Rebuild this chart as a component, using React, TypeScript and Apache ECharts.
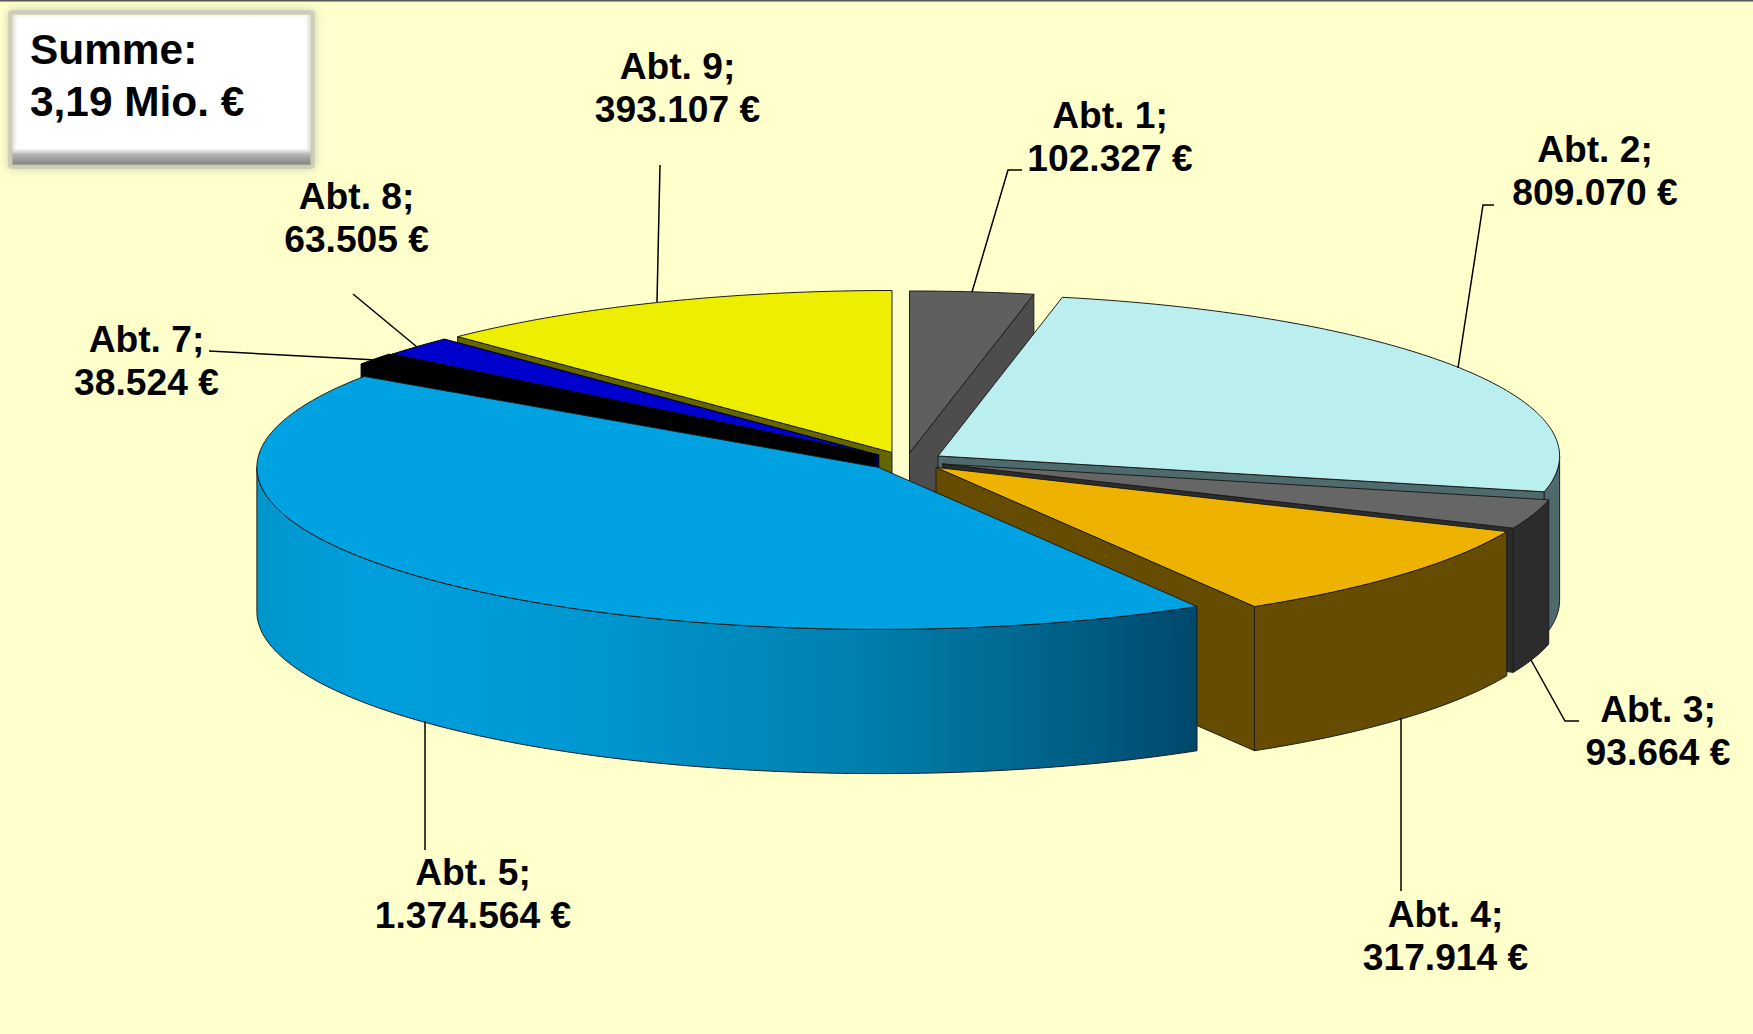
import React, { useEffect, useRef } from "react";
import * as echarts from "echarts";

const names = ["Abt. 1", "Abt. 2", "Abt. 3", "Abt. 4", "Abt. 5", "Abt. 7", "Abt. 8", "Abt. 9"];
const values = [102327, 809070, 93664, 317914, 1374564, 38524, 63505, 393107];
const totalLines = ["Summe:", "3,19 Mio. €"];
const drawOrder = [0, 7, 6, 5, 1, 2, 3, 4];

const topColors = ["#5f5f5f", "#bbeeee", "#666666", "#eeb200", "#00a2e2", "#000000", "#0000cc", "#eeee00"];
const wallColors = ["#4d4d4d", "#4e6a6c", "#2c2c2c", "#664c00", "#0090c8", "#000000", "#000066", "#666600"];
const edgeColors = ["#1c1c1c", "#1c1c1c", "#1c1c1c", "#1c1c1c", "#1c1c1c", "#000000", "#000000", "#1c1c1c"];
const apexes = [[909.5, 453], [938, 456], [942.5, 464], [936, 467.4], [878.5, 467.4], [875.4, 455], [878.8, 455], [892, 452.5]];
const labelCenters = [[1110, 136], [1595, 170], [1658, 730], [1445.5, 935], [473, 893], [146.5, 360.5], [356.6, 217], [677.5, 87.5]];
const leaderLines = [
  [[1022, 170], [1008, 170], [972, 292]],
  [[1494, 205], [1483, 205], [1458, 368]],
  [[1531, 660], [1565, 721], [1579, 721]],
  [[1401, 718], [1401, 891]],
  [[425, 721], [425, 850]],
  [[209, 351], [377, 360]],
  [[353, 294], [417, 347]],
  [[660, 165], [657, 302]],
];

const RX = 621.6;
const RY = 162;
const DEPTH = 144.2;
const total = values.reduce((a, b) => a + b, 0);
const startAngles: number[] = [];
values.reduce((acc, v, i) => {
  startAngles[i] = (acc / total) * 360;
  return acc + v;
}, 0);

const fmt = (v: number) => v.toString().replace(/\B(?=(\d{3})+$)/g, ".");
const rad = (d: number) => (d * Math.PI) / 180;
const pt = (c: number[], deg: number, dy = 0) => [c[0] + RX * Math.sin(rad(deg)), c[1] - RY * Math.cos(rad(deg)) + dy];
const arc = (c: number[], from: number, to: number, dy = 0) => {
  const n = Math.max(2, Math.ceil(Math.abs(to - from) / 0.75));
  const out: number[][] = [];
  for (let i = 0; i <= n; i++) out.push(pt(c, from + ((to - from) * i) / n, dy));
  return out;
};

function renderSlice(_: any, api: any) {
  const i = drawOrder[api.value(0)];
  const c = apexes[i];
  const from = startAngles[i];
  const to = from + (values[i] / total) * 360;
  const children: any[] = [];
  const wallFill = wallColors[i];
  const edge = { stroke: edgeColors[i], lineWidth: 1 };
  const radial = (deg: number) => {
    const p = pt(c, deg);
    return {
      type: "polygon",
      shape: { points: [c, p, [p[0], p[1] + DEPTH], [c[0], c[1] + DEPTH]] },
      style: { fill: wallFill, ...edge },
    };
  };
  // only the cut faces that turn towards the viewer are drawn
  if (Math.sin(rad(to)) > 0) children.push(radial(to));
  if (Math.sin(rad(from)) < 0) children.push(radial(from));
  const a = Math.max(from, 90);
  const b = Math.min(to, 270);
  if (b > a) {
    const fill =
      i === 4
        ? {
            type: "linear", x: 0, y: 0, x2: 1, y2: 0,
            colorStops: [
              { offset: 0, color: "#0096cc" },
              { offset: 0.12, color: "#009fdd" },
              { offset: 0.32, color: "#0099d4" },
              { offset: 0.62, color: "#0082b0" },
              { offset: 0.8, color: "#006a93" },
              { offset: 1, color: "#00486c" },
            ],
          }
        : wallFill;
    children.push({
      type: "polygon",
      shape: { points: [...arc(c, a, b), ...arc(c, b, a, DEPTH)] },
      style: { fill, ...edge },
    });
  }
  children.push({
    type: "polygon",
    shape: { points: [c, ...arc(c, from, to)] },
    style: { fill: topColors[i], ...edge },
  });
  return { type: "group", children };
}

function renderLabel(_: any, api: any) {
  const i = api.value(0);
  return {
    type: "group",
    children: [
      { type: "polyline", shape: { points: leaderLines[i] }, style: { fill: "none", stroke: "#000", lineWidth: 1.5 } },
      {
        type: "text",
        style: {
          x: labelCenters[i][0],
          y: labelCenters[i][1],
          text: `${names[i]};\n${fmt(values[i])} €`,
          font: 'bold 37.2px "Liberation Sans"',
          lineHeight: 43,
          align: "center",
          verticalAlign: "middle",
          fill: "#000",
        },
      },
    ],
  };
}

export default function App() {
  const ref = useRef<HTMLDivElement>(null);
  useEffect(() => {
    document.body.style.margin = "0";
    const chart = echarts.init(ref.current!, null, { renderer: "svg" });
    const edgeH = (x: number, x2: number, c1: string, c2: string) => ({
      type: "rect",
      shape: { x: Math.min(x, x2), y: 15, width: Math.abs(x2 - x), height: 136 },
      style: {
        fill: { type: "linear", x: 0, y: 0, x2: 1, y2: 0, colorStops: [{ offset: 0, color: x < x2 ? c1 : c2 }, { offset: 1, color: x < x2 ? c2 : c1 }] },
      },
    });
    chart.setOption({
      animation: false,
      backgroundColor: "#ffffcc",
      graphic: [
        { type: "line", shape: { x1: 0, y1: 0.75, x2: 1753, y2: 0.75 }, style: { stroke: "#555", lineWidth: 1.5 } },
        {
          type: "rect",
          shape: { x: 8, y: 10, width: 307, height: 159, r: 4 },
          style: { fill: "rgba(189,189,178,0.55)", shadowBlur: 10, shadowColor: "#a8a8a0" },
        },
        {
          type: "rect",
          shape: { x: 12, y: 14, width: 299, height: 151 },
          style: {
            fill: {
              type: "linear", x: 0, y: 0, x2: 0, y2: 1,
              colorStops: [
                { offset: 0, color: "#ececec" },
                { offset: 0.03, color: "#ffffff" },
                { offset: 0.89, color: "#ffffff" },
                { offset: 0.93, color: "#b5b5b5" },
                { offset: 1, color: "#808080" },
              ],
            },
            stroke: "#c9c9a0",
            lineWidth: 1,
          },
        },
        edgeH(13, 19, "#dcdcdc", "rgba(255,255,255,0)"),
        edgeH(310, 304, "#dcdcdc", "rgba(255,255,255,0)"),
        {
          type: "text",
          style: {
            x: 30,
            y: 75.5,
            text: totalLines.join("\n"),
            font: 'bold 42.4px "Liberation Sans"',
            lineHeight: 52,
            align: "left",
            verticalAlign: "middle",
            fill: "#000",
          },
        },
      ],
      series: [
        {
          type: "custom",
          coordinateSystem: "none",
          renderItem: renderSlice,
          data: drawOrder.map((_, k) => [k]),
          silent: true,
          z: 2,
        },
        {
          type: "custom",
          coordinateSystem: "none",
          renderItem: renderLabel,
          data: names.map((_, k) => [k]),
          silent: true,
          z: 3,
        },
      ],
    });
    return () => chart.dispose();
  }, []);
  return <div ref={ref} style={{ position: "absolute", left: 0, top: 0, width: 1753, height: 1034 }} />;
}
